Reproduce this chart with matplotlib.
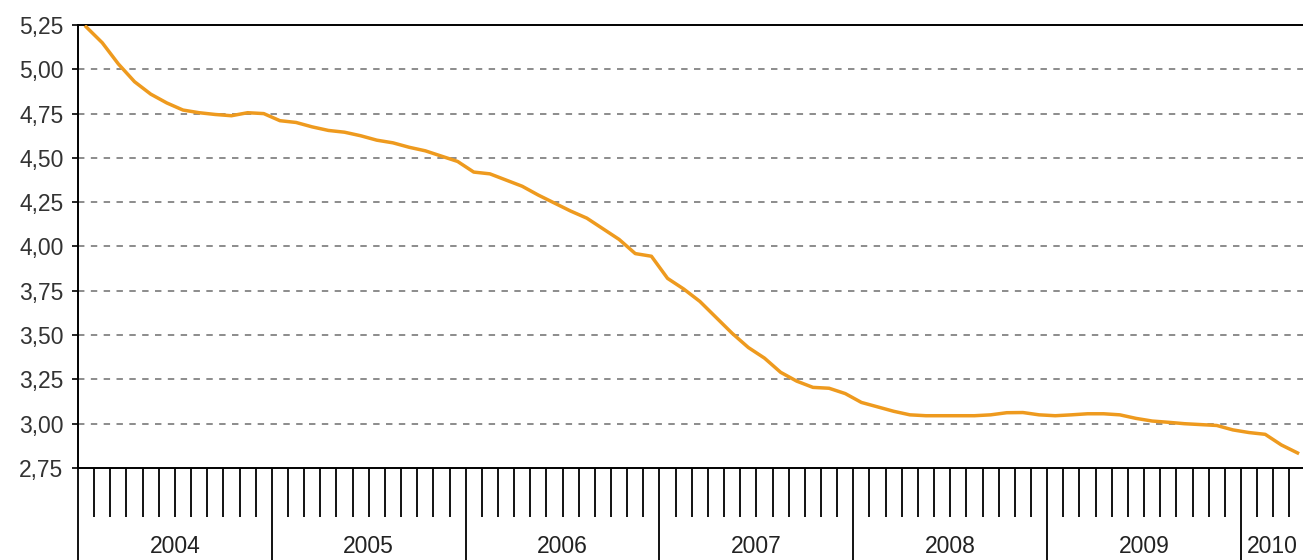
import numpy as np
import matplotlib
matplotlib.use("Agg")
import matplotlib.pyplot as plt
from matplotlib.transforms import blended_transform_factory

plt.rcParams['font.family'] = ['Liberation Sans', 'DejaVu Sans']

# monthly values, Jan 2004 .. Apr 2010
values = [5.24, 5.15, 5.03, 4.93, 4.86, 4.81, 4.77, 4.755, 4.745, 4.738, 4.755, 4.75,
          4.71, 4.70, 4.675, 4.655, 4.645, 4.625, 4.60, 4.585, 4.56, 4.54, 4.51, 4.48,
          4.42, 4.41, 4.375, 4.34, 4.29, 4.245, 4.20, 4.16, 4.10, 4.04, 3.96, 3.945,
          3.82, 3.76, 3.69, 3.60, 3.51, 3.43, 3.37, 3.29, 3.24, 3.205, 3.20, 3.17,
          3.12, 3.095, 3.07, 3.05, 3.045, 3.045, 3.045, 3.045, 3.05, 3.062, 3.063, 3.05,
          3.045, 3.05, 3.056, 3.056, 3.05, 3.03, 3.015, 3.008, 3.0, 2.995, 2.99, 2.965,
          2.95, 2.94, 2.88, 2.835]
years = ['2004', '2005', '2006', '2007', '2008', '2009', '2010']
yticks = [2.75, 3.00, 3.25, 3.50, 3.75, 4.00, 4.25, 4.50, 4.75, 5.00, 5.25]

fig = plt.figure(figsize=(13.03, 5.6), dpi=100)
ax = fig.add_axes([78/1303, 92/560, 1 - 78/1303 + 0.002, 443/560])

x = np.arange(len(values)) + 0.5
ax.plot(x, values, color='#EE9A1E', lw=2.5, solid_joinstyle='round', zorder=3)

xmax = 1225/16.15
ax.set_xlim(0, xmax)
ax.set_ylim(2.75, 5.25)

ax.set_yticks(yticks)
ax.set_yticklabels([('%.2f' % v).replace('.', ',') for v in yticks],
                   fontsize=16.5, color='#333333')
for v in yticks[1:-1]:
    ax.axhline(v, color='#8c8c8c', lw=1.4, ls=(0, (3.3, 3.3)), zorder=1)
ax.tick_params(axis='y', length=4.5, width=1.2, pad=6)

# month ticks and year boundaries
ax.set_xticks(np.arange(0, len(values) + 1, 12))
ax.set_xticks([m for m in range(1, len(values) + 1) if m % 12], minor=True)
ax.set_xticklabels([])
ax.tick_params(axis='x', which='major', length=67, width=1.3, direction='out')
ax.tick_params(axis='x', which='minor', length=35, width=1.3, direction='out')

trans = blended_transform_factory(ax.transData, ax.transAxes)
for i, yr in enumerate(years):
    start = i*12
    end = min(start + 12, xmax)
    ax.text((start + end)/2, -0.178, yr, transform=trans, ha='center', va='center',
            fontsize=16.5, color='#222222', clip_on=False)

for s in ['left', 'top', 'bottom']:
    ax.spines[s].set_linewidth(1.4)
ax.spines['right'].set_visible(False)

fig.savefig('out.png', dpi=100)
